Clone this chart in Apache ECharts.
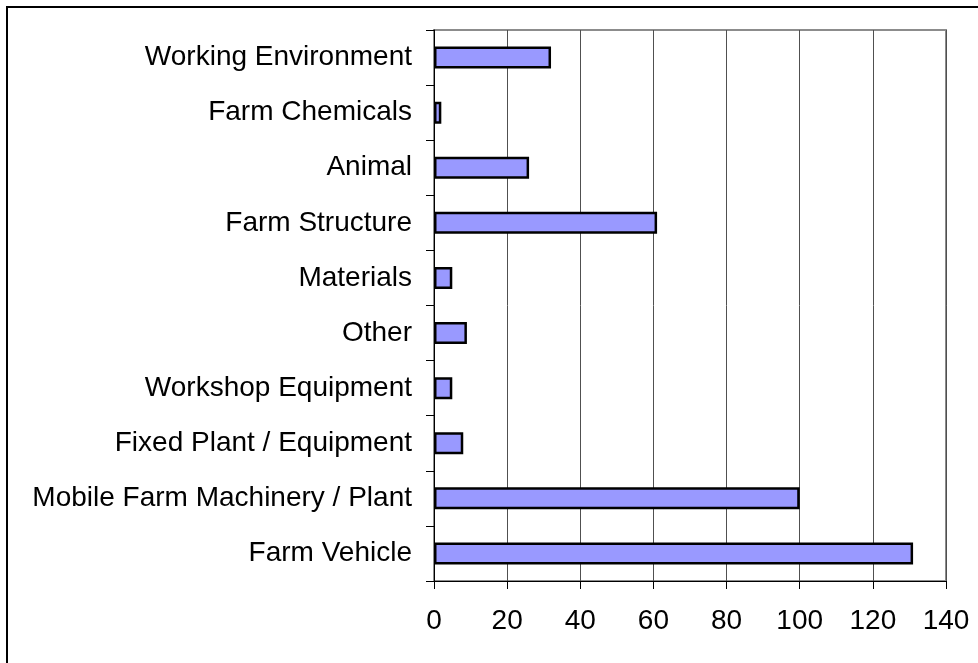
<!DOCTYPE html>
<html>
<head>
<meta charset="utf-8">
<script src="https://cdn.jsdelivr.net/npm/echarts@6/dist/echarts.min.js"></script>
<style>
  html, body { margin: 0; padding: 0; background: #fff; }
  #main { width: 978px; height: 663px; }
</style>
</head>
<body>
<div id="main"></div>
<script>
// categories listed bottom to top, as the category axis draws them
var categories = [
  'Farm Vehicle',
  'Mobile Farm Machinery / Plant',
  'Fixed Plant / Equipment',
  'Workshop Equipment',
  'Other',
  'Materials',
  'Farm Structure',
  'Animal',
  'Farm Chemicals',
  'Working Environment'
];
var counts = [131, 100, 8, 5, 9, 5, 61, 26, 2, 32];
var xTicks = [0, 140, 20]; // min, max, step

var chart = echarts.init(document.getElementById('main'), null, { renderer: 'canvas' });
var font = 'Liberation Sans, Arial, sans-serif';

var option = {
  backgroundColor: '#fff',
  animation: false,
  graphic: [{
    type: 'rect',
    shape: { x: 7, y: 7, width: 1000, height: 700 },
    style: { fill: null, stroke: '#000', lineWidth: 2 },
    z: 10
  }],
  grid: {
    left: 434,
    right: 32,
    top: 30,
    bottom: 82,
    show: true,
    borderColor: '#8c8c8c',
    borderWidth: 2,
    backgroundColor: 'transparent'
  },
  xAxis: {
    type: 'value',
    min: xTicks[0],
    max: xTicks[1],
    interval: xTicks[2],
    axisLine: { show: true, lineStyle: { color: '#000', width: 1 } },
    axisTick: { show: true, length: 8, lineStyle: { color: '#000' } },
    axisLabel: { color: '#000', fontSize: 28, fontFamily: font, margin: 26 },
    splitLine: { show: true, lineStyle: { color: '#505050', width: 1 } }
  },
  yAxis: {
    type: 'category',
    data: categories,
    axisLine: { show: true, lineStyle: { color: '#000', width: 1 } },
    axisTick: { show: true, length: 8, lineStyle: { color: '#000' } },
    axisLabel: { color: '#000', fontSize: 28, fontFamily: font, margin: 22 },
    splitLine: { show: false }
  },
  series: [{
    type: 'bar',
    data: counts,
    barWidth: 22,
    itemStyle: { color: '#9999ff', borderColor: '#000', borderWidth: 2.5 }
  }]
};
chart.setOption(option);
</script>
</body>
</html>
